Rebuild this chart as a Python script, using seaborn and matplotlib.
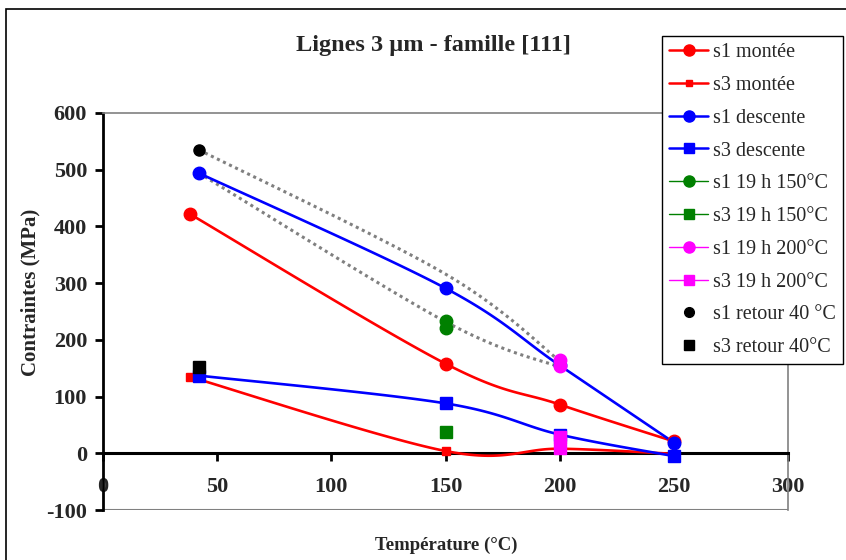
import matplotlib.pyplot as plt
import matplotlib.patches as mpatches
from matplotlib.lines import Line2D
import seaborn as sns
import numpy as np
import pandas as pd

# data
s1_montee_T = [38, 150, 200, 250]
s1_montee_v = [422, 158, 86, 21]
s3_montee_T = [38, 150, 200, 250]
s3_montee_v = [135, 4, 8, -1]
s1_desc_T = [42, 150, 200, 250]
s1_desc_v = [494, 291, 155, 19]
s3_desc_T = [42, 150, 200, 250]
s3_desc_v = [137, 88, 33, -5]
s1_150_T = [150, 150]
s1_150_v = [233, 221]
s3_150_T = [150]
s3_150_v = [37]
s1_200_T = [200, 200]
s1_200_v = [165, 154]
s3_200_T = [200, 200]
s3_200_v = [28, 10]
s1_ret_T = [42]
s1_ret_v = [535]
s3_ret_T = [42]
s3_ret_v = [152]
# dotted guide curves
dot_top_T = [42, 150, 200]
dot_top_v = [535, 316, 163]
dot_bot_T = [42, 150, 200]
dot_bot_v = [494, 232, 152]

x_ticks = [0, 50, 100, 150, 200, 250, 300]
y_ticks = [-100, 0, 100, 200, 300, 400, 500, 600]


def smooth(xs, ys, n=40):
    """Excel-like smoothed line (Bezier through the points)"""
    p = np.column_stack([xs, ys]).astype(float)
    pts = np.vstack([p[0], p, p[-1]])
    out = []
    t = np.linspace(0, 1, n)[:, None]
    for i in range(1, len(pts) - 2):
        p0, p1 = pts[i], pts[i + 1]
        c1 = p0 + (pts[i + 1] - pts[i - 1]) / 6
        c2 = p1 - (pts[i + 2] - pts[i]) / 6
        seg = ((1 - t) ** 3) * p0 + 3 * ((1 - t) ** 2) * t * c1 \
            + 3 * (1 - t) * t ** 2 * c2 + t ** 3 * p1
        out.append(seg)
    out = np.vstack(out)
    return pd.DataFrame({'T': out[:, 0], 'v': out[:, 1]})


sns.set_theme(style='white')
plt.rcParams['font.family'] = ['Liberation Serif', 'DejaVu Serif']

fig = plt.figure(figsize=(8.46, 5.6), dpi=100)
ax = fig.add_axes([103 / 846, 50 / 560, 685 / 846, 397 / 560])

RED, BLUE, GREEN, MAG = '#ff0000', '#0000ff', '#008000', '#ff00ff'
GREY = '#808080'

# dotted guides
for T, v in [(dot_top_T, dot_top_v), (dot_bot_T, dot_bot_v)]:
    d = smooth(T, v)
    sns.lineplot(data=d, x='T', y='v', ax=ax, sort=False, estimator=None,
                 color=GREY, linewidth=2.2, linestyle=(0, (1, 1.2)), zorder=3)

series = [
    (s1_montee_T, s1_montee_v, RED, 'o', 9),
    (s3_montee_T, s3_montee_v, RED, 's', 6),
    (s1_desc_T, s1_desc_v, BLUE, 'o', 9),
    (s3_desc_T, s3_desc_v, BLUE, 's', 8),
]
for T, v, c, m, ms in series:
    d = smooth(T, v)
    sns.lineplot(data=d, x='T', y='v', ax=ax, sort=False, estimator=None,
                 color=c, linewidth=1.9, zorder=4)
    ax.plot(T, v, linestyle='none', marker=m, markersize=ms, color=c, zorder=5)

points = [
    (s1_150_T, s1_150_v, GREEN, 'o', 9),
    (s3_150_T, s3_150_v, GREEN, 's', 8),
    (s1_200_T, s1_200_v, MAG, 'o', 9),
    (s3_200_T, s3_200_v, MAG, 's', 8),
    (s1_ret_T, s1_ret_v, 'black', 'o', 8),
    (s3_ret_T, s3_ret_v, 'black', 's', 8),
]
for T, v, c, m, ms in points:
    ax.plot(T, v, linestyle='none', marker=m, markersize=ms, color=c, zorder=6)

ax.set_xlim(0, 300)
ax.set_ylim(-100, 600)
ax.set_xlabel('')
ax.set_ylabel('')

ax.spines['bottom'].set_position(('data', 0))
ax.spines['bottom'].set_color('black')
ax.spines['bottom'].set_linewidth(2.2)
ax.spines['left'].set_color('black')
ax.spines['left'].set_linewidth(2.0)
ax.spines['top'].set_color(GREY)
ax.spines['right'].set_color(GREY)
ax.spines['top'].set_linewidth(1.2)
ax.spines['right'].set_linewidth(1.2)
ax.axhline(-100, color=GREY, linewidth=1.5, zorder=1)

# ticks after moving the spine (set_position resets them)
ax.set_xticks(x_ticks)
ax.set_yticks(y_ticks)
ax.set_xticklabels([str(t) for t in x_ticks], fontweight='bold', fontsize=16)
ax.set_yticklabels([str(t) for t in y_ticks], fontweight='bold', fontsize=16)
ax.tick_params(axis='both', which='major', direction='out', length=6,
               width=2, color='black', bottom=True, left=True)
ax.tick_params(axis='x', pad=11)
ax.tick_params(axis='y', pad=5.5)

fig.text(433 / 846, 1 - 46 / 560, 'Lignes 3 µm - famille [111]',
         ha='center', va='center', fontsize=17.5, fontweight='bold')
fig.text(30 / 846, 1 - 292 / 560, 'Contraintes (MPa)', rotation=90,
         ha='center', va='center', fontsize=15, fontweight='bold')
fig.text(446 / 846, 1 - 545 / 560, 'Température (°C)',
         ha='center', va='center', fontsize=13.5, fontweight='bold')

# outer chart border
fig.patches.append(mpatches.Rectangle((6 / 846, -0.1), 1.0, 1.1 - 9 / 560,
                                      transform=fig.transFigure, fill=False,
                                      edgecolor='black', linewidth=1.2))

handles = [
    Line2D([], [], color=RED, marker='o', markersize=8, linewidth=1.8),
    Line2D([], [], color=RED, marker='s', markersize=5, linewidth=1.8),
    Line2D([], [], color=BLUE, marker='o', markersize=8, linewidth=1.8),
    Line2D([], [], color=BLUE, marker='s', markersize=7, linewidth=1.8),
    Line2D([], [], color=GREEN, marker='o', markersize=8, linewidth=1.0),
    Line2D([], [], color=GREEN, marker='s', markersize=7, linewidth=1.0),
    Line2D([], [], color=MAG, marker='o', markersize=8, linewidth=1.0),
    Line2D([], [], color=MAG, marker='s', markersize=7, linewidth=1.0),
    Line2D([], [], color='black', marker='o', markersize=7, linestyle='none'),
    Line2D([], [], color='black', marker='s', markersize=7, linestyle='none'),
]
labels = ['s1 montée', 's3 montée', 's1 descente', 's3 descente',
          's1 19 h 150°C', 's3 19 h 150°C', 's1 19 h 200°C', 's3 19 h 200°C',
          's1 retour 40 °C', 's3 retour 40°C']
leg = fig.legend(handles, labels, loc='upper left',
                 bbox_to_anchor=(662 / 846, 1 - 36 / 560),
                 fontsize=14.5, frameon=True, fancybox=False, framealpha=1,
                 edgecolor='black', handlelength=1.95, handletextpad=0.25,
                 labelspacing=0.68, borderpad=0.35, borderaxespad=0)
leg.get_frame().set_linewidth(1.0)

fig.savefig('out.png', dpi=100)
